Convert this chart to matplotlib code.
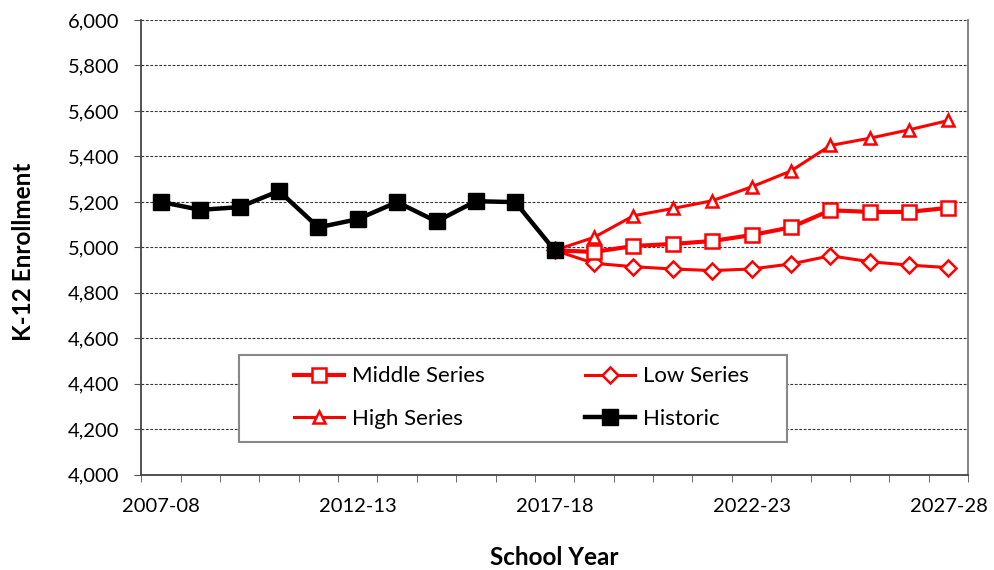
import matplotlib
matplotlib.use("Agg")
import matplotlib.pyplot as plt
from matplotlib.patches import Rectangle
from matplotlib.ticker import FuncFormatter, MultipleLocator

plt.rcParams["font.family"] = ["Lato", "DejaVu Sans"]

years = ["2007-08", "2008-09", "2009-10", "2010-11", "2011-12", "2012-13",
         "2013-14", "2014-15", "2015-16", "2016-17", "2017-18", "2018-19",
         "2019-20", "2020-21", "2021-22", "2022-23", "2023-24", "2024-25",
         "2025-26", "2026-27", "2027-28"]

historic = [5200, 5165, 5177, 5248, 5088, 5124, 5199, 5114, 5203, 5199, 4987]
middle = [4987, 4980, 5006, 5015, 5028, 5054, 5088, 5163, 5156, 5156, 5174]
low = [4987, 4930, 4915, 4905, 4898, 4905, 4927, 4963, 4937, 4922, 4911]
high = [4987, 5044, 5139, 5171, 5205, 5266, 5336, 5448, 5480, 5517, 5558]

label_years = ["2007-08", "2012-13", "2017-18", "2022-23", "2027-28"]

RED = "#ff0000"

fig = plt.figure(figsize=(9.94, 5.70), dpi=100)
ax = fig.add_axes([0.142, 0.167, 0.832, 0.798])

x_hist = list(range(len(historic)))
x_proj = list(range(len(historic) - 1, len(years)))

ax.plot(x_proj, middle, color=RED, lw=3, marker="s", ms=10, mfc="white",
        mec=RED, mew=1.8, label="Middle Series", zorder=4)
ax.plot(x_proj, high, color=RED, lw=2.2, marker="^", ms=9, mfc="white",
        mec=RED, mew=1.8, label="High Series", zorder=3)
ax.plot(x_proj, low, color=RED, lw=2.2, marker="D", ms=8.5, mfc="white",
        mec=RED, mew=1.8, label="Low Series", zorder=3)
ax.plot(x_hist, historic, color="black", lw=3.2, marker="s", ms=11,
        mfc="black", mec="black", label="Historic", zorder=5)

# categories sit between tick marks, like the spreadsheet original
ax.set_xlim(-0.5, len(years) - 0.5)
ax.set_ylim(4000, 6000)
ax.yaxis.set_major_locator(MultipleLocator(200))
ax.yaxis.set_major_formatter(FuncFormatter(lambda v, p: f"{int(v):,}"))
ax.grid(axis="y", color="#333333", linestyle=(0, (2.5, 1.5)), lw=0.8)
ax.set_axisbelow(True)

ax.set_xticks([years.index(y) for y in label_years])
ax.set_xticklabels(label_years)
ax.set_xticks([i - 0.5 for i in range(len(years) + 1)], minor=True)
ax.tick_params(axis="x", which="major", length=0, labelsize=14.5, pad=17)
ax.tick_params(axis="x", which="minor", direction="out", length=5,
               color="#555555")
ax.tick_params(axis="y", direction="out", length=5, color="#555555",
               labelsize=14.5, pad=11)

for s in ("left", "bottom"):
    ax.spines[s].set_color("#444444")
    ax.spines[s].set_linewidth(1.3)
ax.spines["right"].set_color("#888888")
ax.spines["right"].set_linewidth(1.5)
ax.spines["top"].set_visible(False)

ax.set_ylabel("K-12 Enrollment", fontsize=17.5, fontweight="bold", va="center")
ax.set_xlabel("School Year", fontsize=17.5, fontweight="bold", va="center")
ax.yaxis.set_label_coords((23 - 141) / 827, 0.49)
ax.xaxis.set_label_coords(0.499, -0.1824)

# legend box drawn separately so the entries can sit centred inside it
ax.add_patch(Rectangle((0.1185, 0.0714), 0.6625, 0.1923, transform=ax.transAxes,
                       facecolor="white", edgecolor="#888888", lw=1.5,
                       zorder=6))
handles, labels = ax.get_legend_handles_labels()
order = [labels.index(n) for n in ["Middle Series", "High Series",
                                   "Low Series", "Historic"]]
leg = ax.legend([handles[i] for i in order], [labels[i] for i in order],
                ncol=2, loc="center", bbox_to_anchor=(0.460, 0.170),
                fontsize=16, frameon=False, handlelength=2.25,
                handletextpad=0.36, columnspacing=4.5, labelspacing=1.0,
                borderpad=0, borderaxespad=0)
leg.set_zorder(7)

fig.savefig("out.png", dpi=100, facecolor="white")
